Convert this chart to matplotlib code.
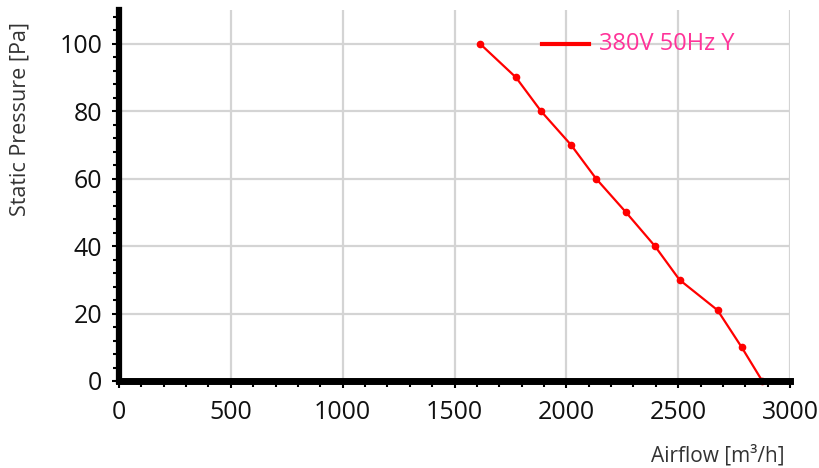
import matplotlib.pyplot as plt
from matplotlib.ticker import MultipleLocator

plt.rcParams['font.family'] = ['Open Sans', 'DejaVu Sans']

airflow = [1614, 1775, 1887, 2021, 2133, 2267, 2396, 2506, 2676, 2784, 2876]
pressure = [100, 90, 80, 70, 60, 50, 40, 30, 21, 10, 0]
series_label = "380V 50Hz Y"

fig = plt.figure(figsize=(8.19, 4.68), dpi=100)
ax = fig.add_axes([0.1453, 0.1859, 0.8193, 0.7927])

ax.plot(airflow, pressure, color="red", lw=1.6, marker="o", ms=4.5, zorder=3, clip_on=False)

ax.set_xlim(0, 3000)
ax.set_ylim(0, 110)
ax.xaxis.set_major_locator(MultipleLocator(500))
ax.xaxis.set_minor_locator(MultipleLocator(100))
ax.yaxis.set_major_locator(MultipleLocator(20))
ax.yaxis.set_minor_locator(MultipleLocator(4))
ax.grid(True, which="major", color="#d4d4d4", lw=1.6)
ax.set_axisbelow(True)

for s in ["top", "right"]:
    ax.spines[s].set_visible(False)
ax.spines["left"].set_linewidth(4.5)
ax.spines["bottom"].set_linewidth(5)
ax.spines["left"].set_zorder(5)
ax.spines["bottom"].set_zorder(5)
ax.tick_params(which="major", length=5, width=1.5, labelsize=18, colors="black", pad=7)
ax.tick_params(which="minor", length=4, width=1.5)
ax.tick_params(axis="x", pad=9)
for lab in ax.get_xticklabels() + ax.get_yticklabels():
    lab.set_color("#111111")

ax.set_ylabel("Static Pressure [Pa]", fontsize=15.5, color="#333333")
ax.yaxis.set_label_coords(-0.132, 0.706)
fig.text(0.958, 0.004, "Airflow [m³/h]", fontsize=15, color="#333333",
         ha="right", va="bottom")

# legend entry
ax.plot([1892, 2100], [100, 100], color="red", lw=3, zorder=3)
ax.text(2145, 100, series_label, color="#ff3399", fontsize=17,
        va="center", ha="left")

fig.savefig("out.png", dpi=100)
